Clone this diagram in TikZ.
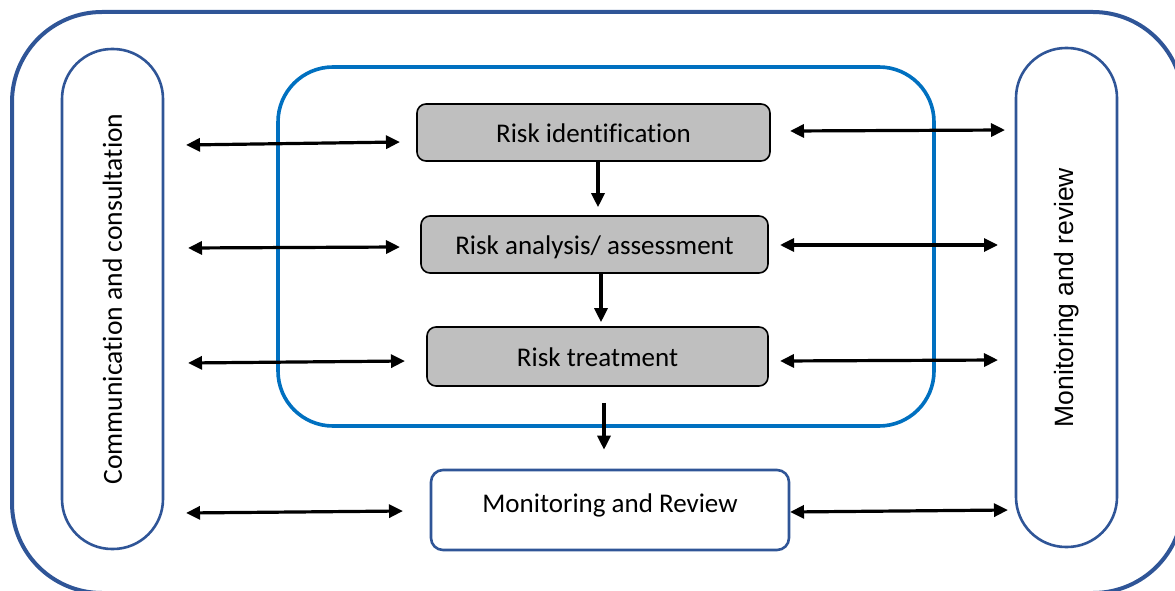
\documentclass[tikz,border=0pt]{standalone}
\usepackage{fontspec}
\setmainfont[Ligatures=NoCommon]{Carlito}
\newfontfamily\arialf{Liberation Sans}
\usetikzlibrary{arrows.meta}
\definecolor{frameblue}{HTML}{2F5597}
\definecolor{innerblue}{HTML}{0070C0}
\definecolor{boxgray}{HTML}{BFBFBF}
\tikzset{
  stepbox/.style={draw=black, line width=1.6pt, fill=boxgray, rounded corners=9pt,
    inner sep=0pt, font=\fontsize{27}{32}\selectfont, text height=22pt, text depth=2pt},
  mrbox/.style={draw=frameblue, line width=2.6pt, fill=white, rounded corners=12pt,
    inner sep=0pt, font=\fontsize{27}{32}\selectfont, text height=22pt, text depth=16.6pt},
  pill/.style={draw=frameblue, line width=2.6pt, rounded corners=50pt, inner sep=0pt,
    minimum width=500pt, minimum height=101pt},
  arr/.style={line width=3.2pt, -{Triangle[length=14pt,width=13pt]}},
  darr/.style={line width=3.2pt, {Triangle[length=14pt,width=13pt]}-{Triangle[length=14pt,width=13pt]}}
}
\begin{document}
\begin{tikzpicture}[x=1pt,y=-1pt]
\useasboundingbox (0,0) rectangle (1175,591);
\clip (0,0) rectangle (1175,591);
% outer frame
\draw[frameblue, line width=4pt, rounded corners=90pt] (12,12) rectangle (1183,593);
% inner blue frame
\draw[innerblue, line width=3.6pt, rounded corners=55pt] (278,67) rectangle (934,426);
% side pills
\node[pill, rotate=90, font=\fontsize{27.6}{32}\selectfont] (cc) at (112.5,299) {Communication and consultation};
\node[pill, rotate=90, minimum width=499pt, font=\arialf\fontsize{26.5}{30}\selectfont] (mrv) at (1066.5,297.5) {Monitoring and review};
% steps
\node[stepbox, minimum width=353pt, minimum height=57pt] (id) at (593.5,132.5) {Risk identification};
\node[stepbox, minimum width=347pt, minimum height=57pt] (an) at (594.5,244.5) {Risk analysis/ assessment};
\node[stepbox, minimum width=341pt, minimum height=59pt] (tr) at (597.5,356.5) {Risk treatment};
\node[mrbox, minimum width=358pt, minimum height=80pt] (mr) at (610,510) {Monitoring and Review};
% vertical arrows
\draw[arr] ([xshift=4.5pt]id.south) -- ([xshift=3.5pt,yshift=8pt]an.north);
\draw[arr] ([xshift=6.5pt]an.south) -- ([xshift=3.5pt,yshift=4pt]tr.north);
\draw[arr] ([xshift=6.5pt,yshift=-16pt]tr.south) -- ([xshift=-6pt,yshift=19pt]mr.north);
% horizontal arrow ends
\coordinate (l1a) at (186,145); \coordinate (l1b) at (400,142);
\coordinate (l2a) at (188,248); \coordinate (l2b) at (400,247);
\coordinate (l3a) at (188,363); \coordinate (l3b) at (405,361);
\coordinate (l4a) at (186,513); \coordinate (l4b) at (403,511);
\coordinate (r1a) at (790,131); \coordinate (r1b) at (1005,130);
\coordinate (r2a) at (780,245); \coordinate (r2b) at (998,245);
\coordinate (r3a) at (780,361); \coordinate (r3b) at (998,360);
\coordinate (r4a) at (790,512); \coordinate (r4b) at (1008,510);
\draw[darr] (l1a) -- (l1b);
\draw[darr] (l2a) -- (l2b);
\draw[darr] (l3a) -- (l3b);
\draw[darr] (l4a) -- (l4b);
\draw[darr] (r1a) -- (r1b);
\draw[darr] (r2a) -- (r2b);
\draw[darr] (r3a) -- (r3b);
\draw[darr] (r4a) -- (r4b);
\end{tikzpicture}
\end{document}
